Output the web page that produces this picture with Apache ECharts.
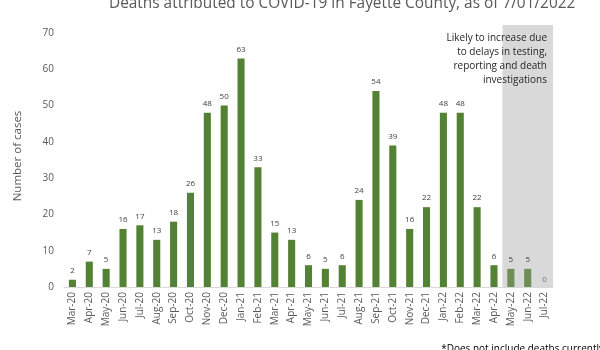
<!DOCTYPE html>
<html><head><meta charset="utf-8">
<script src="https://cdn.jsdelivr.net/npm/echarts@6/dist/echarts.min.js"></script>
<style>html,body{margin:0;padding:0;background:#fff}#c{width:600px;height:350px}</style>
</head><body><div id="c"></div>
<script>
const categories = ['Mar-20','Apr-20','May-20','Jun-20','Jul-20','Aug-20','Sep-20','Oct-20','Nov-20','Dec-20',
  'Jan-21','Feb-21','Mar-21','Apr-21','May-21','Jun-21','Jul-21','Aug-21','Sep-21','Oct-21','Nov-21','Dec-21',
  'Jan-22','Feb-22','Mar-22','Apr-22','May-22','Jun-22','Jul-22'];
const deaths = [2,7,5,16,17,13,18,26,48,50,63,33,15,13,6,5,6,24,54,39,16,22,48,48,22,6,5,5,0];
const pendingMonths = ['May-22','Jun-22','Jul-22'];
const yTicks = [0,10,20,30,40,50,60,70];
const titleText = 'Deaths attributed to COVID-19 in Fayette County, as of 7/01/2022';
const noteText = 'Likely to increase due\nto delays in testing,\nreporting and death\ninvestigations';
const footText = '*Does not include deaths currently';

const FONT = 'Open Sans';
const chart = echarts.init(document.getElementById('c'));
chart.setOption({
  animation: false,
  title: {
    text: titleText, left: 104, top: -9,
    textStyle: { fontFamily: FONT, fontSize: 15.4, fontWeight: 'normal', color: '#595959' }
  },
  graphic: [{
    type: 'text', right: -4, bottom: -4,
    style: { text: footText, font: '10px "Open Sans"', fill: '#000' }
  }],
  grid: { left: 64, right: 47, top: 25, bottom: 63, containLabel: false },
  xAxis: {
    type: 'category', data: categories,
    axisLine: { lineStyle: { color: '#d9d9d9' } },
    axisTick: { show: false },
    axisLabel: { rotate: 90, interval: 0, color: '#595959', fontFamily: FONT, fontSize: 10, margin: 5 }
  },
  yAxis: {
    type: 'value', min: 0, max: 72.2, interval: 10,
    name: 'Number of cases', nameLocation: 'middle', nameGap: 40,
    nameTextStyle: { color: '#595959', fontFamily: FONT, fontSize: 11.5 },
    axisLine: { show: false }, axisTick: { show: false },
    splitLine: { show: false },
    axisLabel: {
      color: '#595959', fontFamily: FONT, fontSize: 10, margin: 10,
      formatter: v => yTicks.includes(v) ? String(v) : ''
    }
  },
  series: [{
    type: 'bar',
    data: deaths.map((v, i) => ({
      value: v,
      itemStyle: { color: pendingMonths.includes(categories[i]) ? '#6f8e57' : '#548235' }
    })),
    barCategoryGap: '58%',
    label: { show: true, position: 'top', distance: 5, color: '#404040', fontFamily: FONT, fontSize: 8,
      formatter: p => p.value === 0 ? '' : String(p.value) },
    markArea: {
      silent: true,
      itemStyle: { color: '#d9d9d9' },
      label: {
        show: true, position: 'insideTopRight', distance: 6,
        color: '#262626', fontFamily: FONT, fontSize: 10, lineHeight: 14,
        formatter: '{b}'
      },
      data: [[{ name: noteText, xAxis: pendingMonths[0], yAxis: 72.2 }, { xAxis: pendingMonths[2], yAxis: 0 }]]
    },
    z: 3
  }, {
    type: 'scatter',
    data: deaths.map((v, i) => pendingMonths.includes(categories[i]) && v === 0 ? [categories[i], v] : null).filter(Boolean),
    symbolSize: 0,
    label: { show: true, position: 'top', distance: 3, color: '#595959', fontFamily: FONT, fontSize: 8, formatter: p => String(p.value[1]) }
  }]
});
</script></body></html>
